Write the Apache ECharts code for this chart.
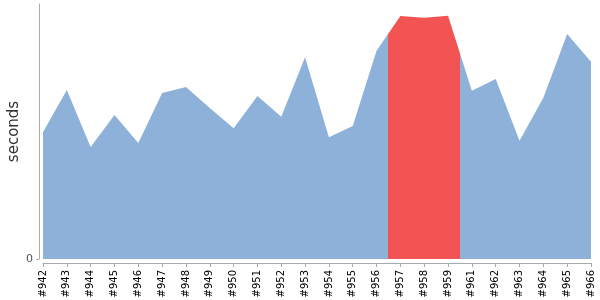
<!DOCTYPE html>
<html><head><meta charset="utf-8">
<script src="https://cdn.jsdelivr.net/npm/echarts@6/dist/echarts.min.js"></script>
<style>html,body{margin:0;padding:0;background:#fff}#c{width:600px;height:300px}</style>
</head><body><div id="c"></div>
<script>
const categories = ['#942','#943','#944','#945','#946','#947','#948','#949','#950','#951','#952','#953','#954','#955','#956','#957','#958','#959','#961','#962','#963','#964','#965','#966'];
const durations = [126.7,169,112,144,116,166,172,151,130.7,163,142.3,201.7,121.7,133,208.3,243,241.3,243.3,168.3,180,118.3,161.3,225,197.3];
const highlightFrom = 14.5, highlightTo = 17.5;
const yMax = 255;

const seriesData = durations.map((v, i) => [i, v]);

const chart = echarts.init(document.getElementById('c'), null, {renderer:'canvas'});
chart.setOption({
  animation:false,
  grid:{left:43,right:9,top:4,bottom:41,outerBoundsMode:'none',containLabel:false},
  xAxis:{type:'value',min:0,max:categories.length-1,interval:1,offset:4,
    splitLine:{show:false},
    axisLine:{onZero:false,lineStyle:{color:'#aaa'}},
    axisTick:{length:4,lineStyle:{color:'#aaa'}},
    axisLabel:{rotate:90,fontSize:10,color:'#000',fontFamily:'DejaVu Sans',margin:7,
      showMinLabel:true,showMaxLabel:true,hideOverlap:false,
      formatter:v=>categories[Math.round(v)] || ''}},
  yAxis:{type:'value',min:0,max:yMax,offset:4,name:'seconds',nameLocation:'middle',nameGap:17,
    nameMoveOverlap:false,
    nameTextStyle:{fontSize:15,color:'#333',fontFamily:'DejaVu Sans'},
    splitLine:{show:false},
    axisLine:{show:true,onZero:false,lineStyle:{color:'#aaa'}},
    axisTick:{show:true,length:3,customValues:[0],lineStyle:{color:'#aaa'}},
    axisLabel:{customValues:[0],fontSize:11,color:'#555',fontFamily:'DejaVu Sans',margin:6}},
  visualMap:{show:false,type:'piecewise',dimension:0,seriesIndex:0,
    pieces:[{gt:highlightFrom,lt:highlightTo,color:'#f25454'}],outOfRange:{color:'#8eb1d9'}},
  series:[{type:'line',data:seriesData,symbol:'none',lineStyle:{width:0},
    areaStyle:{opacity:1}}]
});
</script></body></html>
